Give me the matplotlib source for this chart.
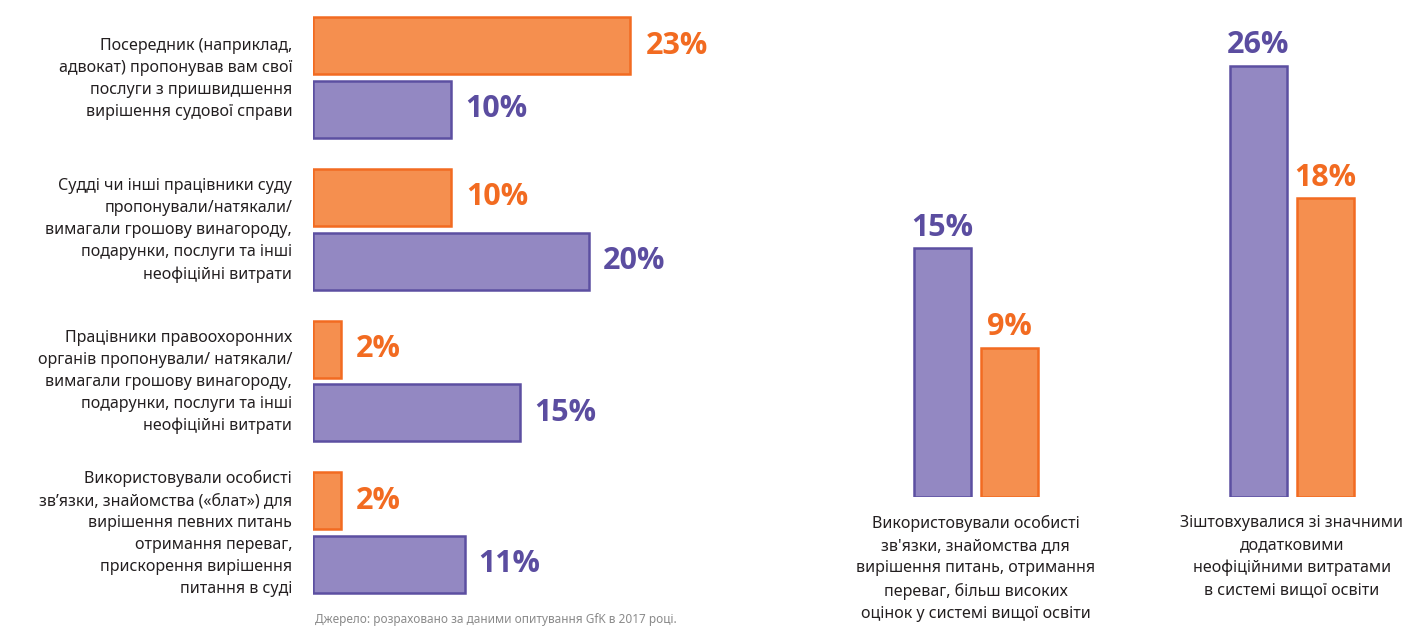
import matplotlib.pyplot as plt
import matplotlib.transforms as mtransforms
import numpy as np

plt.rcParams['font.family'] = ['Noto Sans', 'DejaVu Sans']

ORANGE_FILL = '#F58F4F'
ORANGE_EDGE = '#F26B21'
PURPLE_FILL = '#9388C2'
PURPLE_EDGE = '#5C4FA1'
PURPLE_TEXT = '#5B4DA0'
BOLD_FONT = ['Open Sans', 'Lato', 'DejaVu Sans']

# left chart: court-related
court_labels = [
    'Посередник (наприклад,\nадвокат) пропонував вам свої\nпослуги з пришвидшення\nвирішення судової справи',
    'Судді чи інші працівники суду\nпропонували/натякали/\nвимагали грошову винагороду,\nподарунки, послуги та інші\nнеофіційні витрати',
    'Працівники правоохоронних\nорганів пропонували/ натякали/\nвимагали грошову винагороду,\nподарунки, послуги та інші\nнеофіційні витрати',
    'Використовували особисті\nзв’язки, знайомства («блат») для\nвирішення певних питань\nотримання переваг,\nприскорення вирішення\nпитання в суді',
]
court_orange = [23, 10, 2, 2]
court_purple = [10, 20, 15, 11]

# right chart: higher education
edu_labels = [
    "Використовували особисті\nзв'язки, знайомства для\nвирішення питань, отримання\nпереваг, більш високих\nоцінок у системі вищої освіти",
    'Зіштовхувалися зі значними\nдодатковими\nнеофіційними витратами\nв системі вищої освіти',
]
edu_purple = [15, 26]
edu_orange = [9, 18]

W, H = 1415, 627
fig = plt.figure(figsize=(W / 100, H / 100), dpi=100)

# ---- left horizontal bars
ax1 = fig.add_axes([313 / W, (H - 610) / H, (720 - 313) / W, 610 / H])
y = np.arange(len(court_labels))
bh = 0.375
off = 0.21
ax1.barh(y - off, court_orange, height=bh, color=ORANGE_FILL, edgecolor=ORANGE_EDGE, linewidth=1.8)
ax1.barh(y + off, court_purple, height=bh, color=PURPLE_FILL, edgecolor=PURPLE_EDGE, linewidth=1.8)
for yi, v in zip(y - off, court_orange):
    ax1.annotate(f'{v}%', (v, yi), xytext=(11, 0), textcoords='offset points',
                 va='center', ha='left', fontsize=22, fontweight='bold', color=ORANGE_EDGE,
                 family=BOLD_FONT)
for yi, v in zip(y + off, court_purple):
    ax1.annotate(f'{v}%', (v, yi), xytext=(10, 0), textcoords='offset points',
                 va='center', ha='left', fontsize=22, fontweight='bold', color=PURPLE_TEXT,
                 family=BOLD_FONT)
ax1.set_xlim(0, 29.5)
ax1.set_ylim(3.51, -0.511)
ax1.set_yticks(y)
ax1.set_yticklabels(court_labels, fontsize=11.5, linespacing=1.5, color='#231F20')
ax1.tick_params(axis='y', length=0, pad=15)
shift = mtransforms.ScaledTranslation(0, 4 / 100, fig.dpi_scale_trans)
for lab in ax1.get_yticklabels():
    lab.set_transform(lab.get_transform() + shift)
ax1.set_xticks([])
for s in ax1.spines.values():
    s.set_visible(False)
fig.text(315 / W, 1 - 620 / H, 'Джерело: розраховано за даними опитування GfK в 2017 році.',
         fontsize=8.5, color='#8A8A8A', va='center', ha='left')

# ---- right vertical bars
ax2 = fig.add_axes([870 / W, (H - 497) / H, 545 / W, 497 / H])
x = np.arange(len(edu_labels))
bw = 0.18
xo = 0.106
ax2.bar(x - xo, edu_purple, width=bw, color=PURPLE_FILL, edgecolor=PURPLE_EDGE, linewidth=1.8)
ax2.bar(x + xo, edu_orange, width=bw, color=ORANGE_FILL, edgecolor=ORANGE_EDGE, linewidth=1.8)
for xi, v in zip(x - xo, edu_purple):
    ax2.annotate(f'{v}%', (xi, v), xytext=(0, 4), textcoords='offset points',
                 va='bottom', ha='center', fontsize=22, fontweight='bold', color=PURPLE_TEXT,
                 family=BOLD_FONT)
for xi, v in zip(x + xo, edu_orange):
    ax2.annotate(f'{v}%', (xi, v), xytext=(0, 4), textcoords='offset points',
                 va='bottom', ha='center', fontsize=22, fontweight='bold', color=ORANGE_EDGE,
                 family=BOLD_FONT)
for xi, lab in zip(x, edu_labels):
    ax2.annotate(lab, (xi, 0), xytext=(0, -13), textcoords='offset points',
                 va='top', ha='center', fontsize=11.5, linespacing=1.5, color='#231F20',
                 annotation_clip=False)
ax2.set_xlim(-0.335, 1.39)
ax2.set_ylim(0, 29.96)
ax2.axis('off')

fig.savefig('out.png', dpi=100)
